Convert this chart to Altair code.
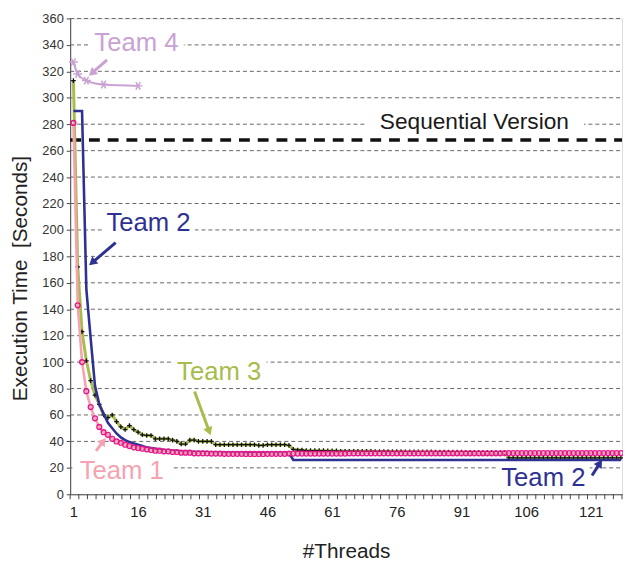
import math
import altair as alt
import pandas as pd

# ---------------- data ----------------
threads = list(range(1, 129))

team1 = [281, 143, 100, 78, 66, 57.5, 51, 47, 45, 42,
         40, 39, 37.5, 36.5, 35.5, 35, 34.5, 34, 33.5, 33,
         33, 32.5, 32.5, 32, 32, 31.5, 31.5, 31.5, 31, 31,
         31, 31, 30.8, 30.8, 30.8, 30.6, 30.6, 30.6, 30.6, 30.6,
         30.5, 30.5, 30.5, 30.5, 30.5, 30.6, 30.6, 30.6, 30.6, 30.6,
         30.8, 30.8, 30.8, 30.8, 30.8, 30.8, 30.8, 30.8, 30.8, 30.8,
         30.8, 30.8, 30.8, 30.8, 31, 31, 31, 31, 31, 31,
         31, 31, 31, 31, 31, 31, 31, 31, 31, 31,
         31, 31, 31, 31, 31, 31, 31, 31, 31, 31,
         31, 31, 31, 31, 31, 31, 31, 31, 31, 31,
         31.2, 31.2, 31.2, 31.2, 31.2, 31.2, 31.2, 31.2, 31.2, 31.2,
         31.2, 31.2, 31.2, 31.2, 31.2, 31.2, 31.2, 31.2, 31.2, 31.2,
         31.2, 31.2, 31.2, 31.2, 31.2, 31.2, 31.2, 31.2]

team2 = [290, 290, 290, 155, 118, 82, 68, 61, 54, 50,
         46, 43, 41, 39.5, 38.5, 37.5, 36.5, 35.5, 35, 34.5,
         34, 33.5, 33.2, 33, 32.8, 32.6, 32.4, 32.2, 32, 32,
         32, 31.8, 31.8, 31.8, 31.6, 31.6, 31.6, 31.5, 31.5, 31.5,
         31.4, 31.4, 31.4, 31.3, 31.3, 31.3, 31.2, 31.2, 31.2, 31.2,
         31.2, 26, 26, 26, 26, 26, 26, 26, 26, 26,
         26, 26, 26, 26, 26, 26, 26, 26, 26, 26,
         26, 26, 26, 26, 26, 26, 26, 26, 26, 26,
         26, 26, 26, 26, 26, 26, 26, 26, 26, 26,
         26, 26, 26, 26, 26, 26, 26, 26, 26, 26,
         26, 26, 26, 26, 26, 26, 26, 26, 26, 26,
         26, 26, 26, 26, 26, 26, 26, 26, 26, 26,
         26, 26, 26, 26, 26, 26, 26, 26]

team3 = [313, 172, 123, 101, 86, 75, 68, 60, 58, 60,
         55, 51, 49, 52, 49, 47, 45, 44.5, 44.5, 42,
         42, 42, 42, 41, 40, 38, 38, 41, 41, 40,
         40, 40, 40, 37.5, 37.5, 37.5, 37.5, 37.5, 37.5, 37.5,
         37.5, 37.5, 37.5, 37, 37, 37.5, 37.5, 37.5, 37.5, 37.5,
         37, 34, 33.5, 33.5, 33, 33, 33, 33, 33, 32.8,
         32.8, 32.8, 32.6, 32.6, 32.6, 32.6, 32.5, 32.5, 32.5, 32.5,
         32.4, 32.4, 32.4, 32.4, 32.3, 32.3, 32.3, 32.2, 32.2, 32.2,
         32.2, 32.1, 32.1, 32.1, 32, 32, 32, 32, 31.9, 31.9,
         31.9, 31.8, 31.8, 31.8, 31.8, 31.7, 31.7, 31.7, 31.6, 31.6,
         31.6, 27.5, 27.5, 27.5, 27.5, 27.5, 27.5, 27.5, 27.5, 27.5,
         27.5, 27.5, 27.5, 27.5, 27.5, 27.5, 27.5, 27.5, 27.5, 27.5,
         27.5, 27.5, 27.5, 27.5, 27.5, 27.5, 27.5, 27.5]

team4_threads = [1, 2, 4, 8, 16]
team4 = [327, 318, 313, 310, 309]

sequential = 268

y_ticks = list(range(0, 361, 20))
x_labels = [1, 16, 31, 46, 61, 76, 91, 106, 121]

# annotations (data coordinates)
label_text = ["Team 4", "Team 2", "Team 3", "Team 1", "Team 2", "Sequential Version"]
label_x = [15.6, 18.4, 34.8, 12.2, 110.0, 94.0]
label_y = [341, 205, 92.6, 17.9, 11.9, 281.6]
label_size = [26, 26, 26, 26, 26, 23]
label_box_w = [96, 94, 96, 100, 94, 222]

arrow_tail_x = [8.8, 10.8, 29.1, 6.25, 121.3]
arrow_tail_y = [328.6, 190.4, 77.7, 32.9, 14.2]
arrow_head_x = [4.6, 4.65, 32.8, 8.5, 123.6]
arrow_head_y = [316.7, 173.3, 44.8, 42.6, 26.1]

C1_LINE, C1_MARK = "#F5A3B0", "#E6168A"
C2 = "#2E3192"
C3_LINE = "#A8BC4C"
C4 = "#C9A2D3"
label_color = [C4, C2, C3_LINE, C1_LINE, C2, "#1a1a1a"]
arrow_color = [C4, C2, C3_LINE, C1_LINE, C2]

# ---------------- layout ----------------
W, H = 559, 482
XD = [0.25, 128.25]
YD = [0, 360]
pxx = W / (XD[1] - XD[0])
pxy = H / (YD[1] - YD[0])
FONT = "Liberation Sans"

xs = alt.Scale(domain=XD, nice=False, zero=False)
ys = alt.Scale(domain=YD, nice=False, zero=False)
x_axis = alt.Axis(values=x_labels, title="#Threads", ticks=False, grid=False,
                  labelFontSize=15, labelPadding=11, labelColor="#222",
                  titleFontSize=21, titleFontWeight="normal", titlePadding=21,
                  titleColor="#222", domainColor="#444", labelFont=FONT, titleFont=FONT)
y_axis = alt.Axis(values=y_ticks, title="Execution Time\u00a0 [Seconds]", grid=False,
                  tickSize=4, tickColor="#444", labelFontSize=13, labelPadding=3,
                  labelColor="#333", domainColor="#444",
                  titleFontSize=21, titleFontWeight="normal", titleColor="#222",
                  titleX=-50, titleY=263, titleBaseline="middle", titleAngle=270,
                  labelFont=FONT, titleFont=FONT)


def X(field):
    return alt.X(field, type="quantitative", scale=xs, axis=x_axis)


def Y(field):
    return alt.Y(field, type="quantitative", scale=ys, axis=y_axis)


df1 = pd.DataFrame({"t": threads, "v": team1})
df2 = pd.DataFrame({"t": threads, "v": team2})
df3 = pd.DataFrame({"t": threads, "v": team3})
df4 = pd.DataFrame({"t": team4_threads, "v": team4})

# label boxes
box_rows = []
for txt, lx, ly, bw in zip(label_text, label_x, label_y, label_box_w):
    box_rows.append({"x1": lx - bw / 2 / pxx, "x2": lx + bw / 2 / pxx,
                     "y1": ly - 13 / pxy, "y2": ly + 13 / pxy})
df_box = pd.DataFrame(box_rows)
df_lab = pd.DataFrame({"x": label_x, "y": label_y, "text": label_text,
                       "color": label_color, "size": label_size})

arrow_rows = []
for tx, ty, hx, hy, col in zip(arrow_tail_x, arrow_tail_y, arrow_head_x, arrow_head_y, arrow_color):
    dxp = (hx - tx) * pxx
    dyp = (hy - ty) * pxy
    L = math.hypot(dxp, dyp)
    ux, uy = dxp / L, dyp / L
    ang = math.degrees(math.atan2(dxp, dyp)) % 360
    cx = hx - ux * 4 / pxx
    cy = hy - uy * 4 / pxy
    arrow_rows.append({"tx": tx, "ty": ty, "cx": cx, "cy": cy, "ang": ang, "color": col})
df_arr = pd.DataFrame(arrow_rows)

df_seq = pd.DataFrame({"x1": [XD[0]], "x2": [XD[1]], "y": [sequential]})
df_ticks = pd.DataFrame({"p": [XD[0] + 2 * k for k in range(65)]})
df_grid = pd.DataFrame({"x1": XD[0], "x2": XD[1], "y": y_ticks[1:]})

grid = alt.Chart(df_grid).mark_rule(color="#666", strokeWidth=1, strokeDash=[4, 3]).encode(
    x=X("x1"), x2="x2", y=Y("y"))

boxes = alt.Chart(df_box).mark_rect(color="white").encode(
    x=X("x1"), x2="x2", y=Y("y1"), y2="y2")

seq = alt.Chart(df_seq).mark_rule(color="#111", strokeWidth=3.5, strokeDash=[11, 8]).encode(
    x=X("x1"), x2="x2", y=Y("y"))

ticks = alt.Chart(df_ticks).mark_rule(color="#444", strokeWidth=1).encode(
    x=X("p"), y=alt.value(H), y2=alt.value(H + 5))

l3 = alt.Chart(df3).mark_line(color=C3_LINE, strokeWidth=3).encode(x=X("t"), y=Y("v"))
p3 = alt.Chart(df3).mark_point(shape="M-1,0L1,0M0,-1L0,1", filled=False, color="#111",
                               size=22, strokeWidth=1.3, opacity=1).encode(x=X("t"), y=Y("v"))
l2 = alt.Chart(df2).mark_line(color=C2, strokeWidth=2.6).encode(x=X("t"), y=Y("v"))
l1 = alt.Chart(df1).mark_line(color=C1_LINE, strokeWidth=2.6).encode(x=X("t"), y=Y("v"))
p1 = alt.Chart(df1).mark_point(shape="circle", filled=False, color=C1_MARK, size=24,
                               strokeWidth=1.4, opacity=1).encode(x=X("t"), y=Y("v"))
l4 = alt.Chart(df4).mark_line(color=C4, strokeWidth=2, interpolate="monotone").encode(
    x=X("t"), y=Y("v"))
p4 = alt.Chart(df4).mark_point(shape="M-1,0L1,0M-0.5,-0.87L0.5,0.87M-0.5,0.87L0.5,-0.87",
                               filled=False, color=C4, size=80, strokeWidth=1.5,
                               opacity=1).encode(x=X("t"), y=Y("v"))

arr_line = alt.Chart(df_arr).mark_rule(strokeWidth=3).encode(
    x=X("tx"), y=Y("ty"), x2="cx", y2="cy", color=alt.Color("color:N", scale=None))
arr_head = alt.Chart(df_arr).mark_point(shape="triangle-up", filled=True, size=90,
                                        opacity=1).encode(
    x=X("cx"), y=Y("cy"), angle=alt.Angle("ang:Q", scale=None),
    color=alt.Color("color:N", scale=None))

labels = alt.Chart(df_lab).mark_text(font=FONT, baseline="middle", align="center").encode(
    x=X("x"), y=Y("y"), text="text:N",
    color=alt.Color("color:N", scale=None),
    size=alt.Size("size:Q", scale=None))

chart = alt.layer(grid, boxes, ticks, seq, l3, p3, l2, l1, p1, l4, p4, arr_line, arr_head,
                  labels).properties(
    width=W, height=H,
    autosize=alt.AutoSizeParams(type="none"),
    padding={"left": 63, "top": 7, "right": 1, "bottom": 66},
).configure_view(stroke=None).configure(background="white")

chart.save("out.html", embed_options={"renderer": "svg", "actions": False})
